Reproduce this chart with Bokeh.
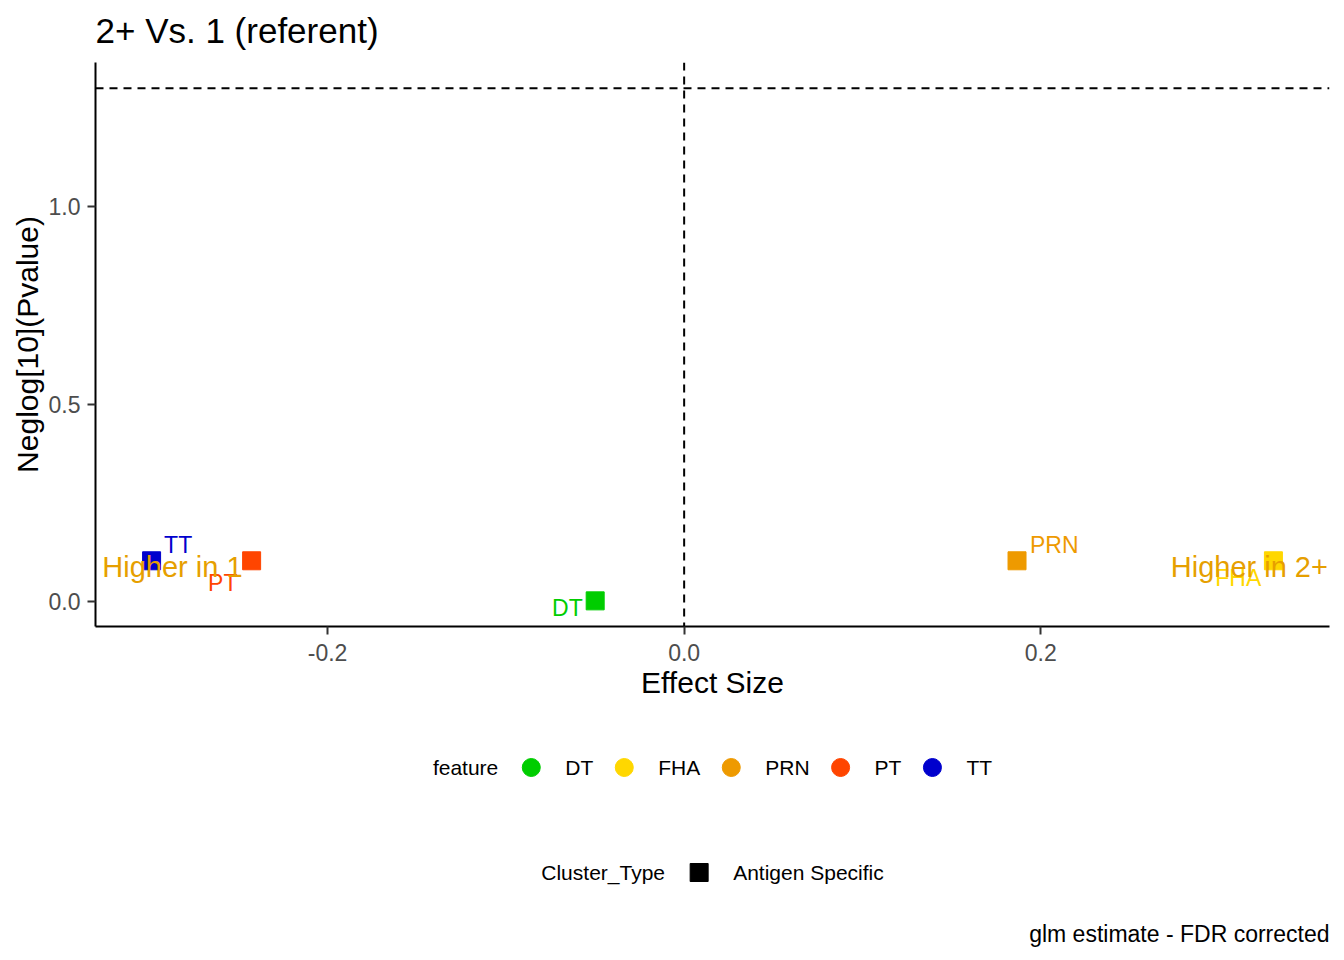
import math
from bokeh.plotting import figure
from bokeh.models import Range1d, FixedTicker, PrintfTickFormatter, Span, ColumnDataSource
from bokeh.layouts import column
from bokeh.embed import file_html
from bokeh.resources import INLINE
from bokeh.core.properties import value

FONT = "Liberation Sans"

# ---------------- data ----------------
features = ["DT", "FHA", "PRN", "PT", "TT"]
feature_colors = ["#00CD00", "#FFD700", "#EE9A00", "#FF4500", "#0000CD"]
effect_size = [-0.0499, 0.3305, 0.1867, -0.2426, -0.2987]
neglog_p = [0.0025, 0.1040, 0.1040, 0.1040, 0.1040]
label_x = [-0.0655, 0.3108, 0.2076, -0.2588, -0.2838]
label_y = [-0.0160, 0.0595, 0.1430, 0.0490, 0.1440]
direction_text = ["Higher in 1", "Higher in 2+"]
direction_x = [-0.287, 0.317]
direction_y = [0.0886, 0.0886]
cluster_types = ["Antigen Specific"]
cluster_colors = ["black"]
x_ticks = [-0.2, 0.0, 0.2]
y_ticks = [0.0, 0.5, 1.0]
p_threshold = 0.05
title_text = "2+ Vs. 1 (referent)"
x_title = "Effect Size"
y_title = "Neglog[10](Pvalue)"
caption_text = "glm estimate - FDR corrected"

thr = -math.log10(p_threshold)

# ---------------- ranges (ggplot-like 5% expansion) ----------------
xlo, xhi = min(effect_size + [0.0]), max(effect_size + [0.0])
xpad = 0.05 * (xhi - xlo)
ylo, yhi = min(neglog_p + [thr]), max(neglog_p + [thr])
ypad = 0.05 * (yhi - ylo)

W_FIG = 1344
H_T = 62
H_A = 658
H_B = 238
FL, FR, FB = 95, 15, 94


def blank_panel(height):
    f = figure(width=W_FIG, height=height, output_backend="svg", toolbar_location=None,
               x_range=Range1d(FL, W_FIG - FR), y_range=Range1d(height, 0),
               x_axis_location=None, y_axis_location=None,
               min_border_left=FL, min_border_right=FR, min_border_top=0,
               min_border_bottom=0, title=None)
    f.outline_line_color = None
    f.grid.visible = False
    f.background_fill_color = "white"
    f.border_fill_color = "white"
    return f


# ---------------- title strip ----------------
pt = blank_panel(H_T)
pt.text(x=[FL], y=[30], text=[title_text], text_color="black",
        text_font=value(FONT), text_font_size=value("35px"),
        text_align="left", text_baseline="middle")

# ---------------- main plot ----------------
p = figure(width=W_FIG, height=H_A, output_backend="svg", toolbar_location=None,
           x_range=Range1d(xlo - xpad, xhi + xpad), y_range=Range1d(ylo - ypad, yhi + ypad),
           min_border_left=FL, min_border_right=FR, min_border_top=0, min_border_bottom=FB,
           title=None)
p.outline_line_color = None
p.grid.visible = False
p.background_fill_color = "white"
p.border_fill_color = "white"

for ax in (p.xaxis[0], p.yaxis[0]):
    ax.axis_line_color = "black"
    ax.axis_line_width = 2
    ax.major_tick_line_color = "#333333"
    ax.major_tick_line_width = 2
    ax.major_tick_out = 8
    ax.major_tick_in = 0
    ax.minor_tick_line_color = None
    ax.major_label_text_font = FONT
    ax.major_label_text_font_size = "23px"
    ax.major_label_text_color = "#4D4D4D"
    ax.axis_label_text_font = FONT
    ax.axis_label_text_font_size = "30px"
    ax.axis_label_text_font_style = "normal"
    ax.axis_label_text_color = "black"
    ax.formatter = PrintfTickFormatter(format="%.1f")

p.xaxis.ticker = FixedTicker(ticks=x_ticks)
p.yaxis.ticker = FixedTicker(ticks=y_ticks)
p.xaxis.axis_label = x_title
p.yaxis.axis_label = y_title
p.xaxis.major_label_standoff = 9
p.yaxis.major_label_standoff = 7
p.xaxis.axis_label_standoff = 2
p.yaxis.axis_label_standoff = 2

p.add_layout(Span(location=0.0, dimension="height", line_color="black",
                  line_dash="8 6", line_width=2, level="underlay"))
p.add_layout(Span(location=thr, dimension="width", line_color="black",
                  line_dash="8 6", line_width=2, level="underlay"))

src = ColumnDataSource(dict(x=effect_size, y=neglog_p, feature=features,
                            color=feature_colors, lx=label_x, ly=label_y))
p.scatter("x", "y", source=src, marker="square", size=18,
          fill_color="color", line_color="color")
p.text("lx", "ly", text="feature", source=src, text_color="color",
       text_font=value(FONT), text_font_size=value("23px"),
       text_align="center", text_baseline="middle")
p.text(x=direction_x, y=direction_y, text=direction_text, text_color="#E69F00",
       text_font=value(FONT), text_font_size=value("29px"),
       text_align="center", text_baseline="middle")

# ---------------- legend / caption area ----------------
pb = blank_panel(H_B)

CW = {" ": 278, "_": 556, "A": 667, "C": 722, "D": 722, "F": 611, "H": 722, "N": 722,
      "P": 667, "R": 722, "S": 667, "T": 611, "a": 556, "c": 500, "e": 556, "f": 278,
      "g": 556, "i": 222, "l": 222, "n": 556, "p": 556, "r": 333, "s": 500, "t": 278,
      "u": 556, "y": 500}


def text_w(s, size):
    return sum(CW.get(ch, 556) for ch in s) / 1000.0 * size


LEG_SIZE = 21
center_x = (FL + (W_FIG - FR)) / 2.0


def legend_row(title, labels, colors, marker, yc):
    cursor = text_w(title, LEG_SIZE)
    keys, lefts = [], []
    gap = 33
    for lab in labels:
        kc = cursor + gap
        ll = kc + 34
        keys.append(kc)
        lefts.append(ll)
        cursor = ll + text_w(lab, LEG_SIZE)
        gap = 31
    start = center_x - cursor / 2.0
    pb.text(x=[start], y=[yc], text=[title], text_color="black",
            text_font=value(FONT), text_font_size=value(f"{LEG_SIZE}px"),
            text_align="left", text_baseline="middle")
    pb.scatter(x=[start + k for k in keys], y=[yc] * len(keys), marker=marker, size=18,
               fill_color=colors, line_color=colors)
    pb.text(x=[start + l for l in lefts], y=[yc] * len(lefts), text=labels,
            text_color="black", text_font=value(FONT),
            text_font_size=value(f"{LEG_SIZE}px"),
            text_align="left", text_baseline="middle")


legend_row("feature", features, feature_colors, "circle", 47)
legend_row("Cluster_Type", cluster_types, cluster_colors, "square", 152)

pb.text(x=[W_FIG - FR], y=[213], text=[caption_text], text_color="black",
        text_font=value(FONT), text_font_size=value("23px"),
        text_align="right", text_baseline="middle")

layout = column(pt, p, pb)
open("out.html", "w").write(file_html(layout, INLINE))
